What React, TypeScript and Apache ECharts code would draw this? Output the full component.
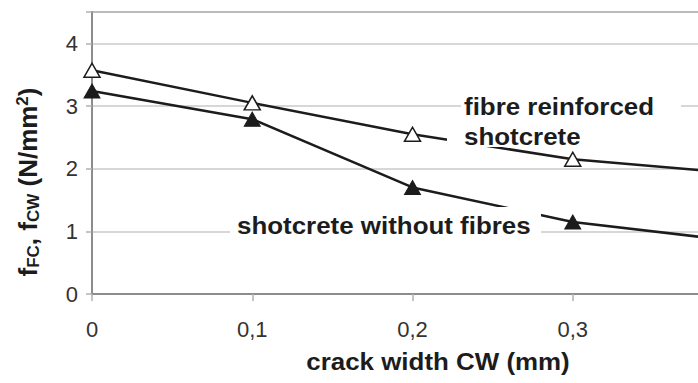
import { useEffect, useRef } from 'react';
import * as echarts from 'echarts';

const crackWidths = [0, 0.1, 0.2, 0.3, 0.4];
const fibreReinforced = [3.57, 3.05, 2.55, 2.15, 1.93];
const withoutFibres = [3.24, 2.79, 1.7, 1.15, 0.85];
const xTickLabels = ['0', '0,1', '0,2', '0,3'];
const yTickLabels = ['0', '1', '2', '3', '4'];
const labelFibre = ['fibre reinforced', 'shotcrete'];
const labelPlain = 'shotcrete without fibres';
const xTitle = 'crack width CW (mm)';

const FONT = '"Liberation Sans", Arial, Helvetica, sans-serif';
const INK = '#1c1c1c';
const CHART_W = 736;
const CHART_H = 383;

export default function App() {
  const ref = useRef<HTMLDivElement>(null);
  useEffect(() => {
    const chart = echarts.init(ref.current!, null, { renderer: 'svg', width: CHART_W, height: CHART_H });
    const boldText = (text: string, x: number, y: number, align: string) => ({
      type: 'text',
      z: 101,
      x,
      y,
      scaleX: 1.08,
      style: {
        text,
        fontFamily: FONT,
        fontWeight: 'bold',
        fontSize: 24,
        fill: INK,
        align,
        verticalAlign: 'middle',
      },
    });
    const option = {
      animation: false,
      backgroundColor: '#fff',
      grid: {
        left: 92,
        top: 12,
        bottom: 89,
        right: 1,
        show: true,
        borderColor: '#8c8c8c',
        borderWidth: 2,
        backgroundColor: 'transparent',
      },
      xAxis: {
        type: 'value',
        min: 0,
        max: 0.4,
        interval: 0.1,
        axisLine: { show: true, lineStyle: { color: '#8c8c8c', width: 2 } },
        axisTick: { show: true, length: 7, lineStyle: { color: '#b0b0b0', width: 1.5 } },
        splitLine: { show: false },
        axisLabel: {
          margin: 24,
          fontSize: 22,
          fontFamily: FONT,
          color: '#333',
          formatter: (v: number) => xTickLabels[Math.round(v * 10)] ?? '',
        },
      },
      yAxis: {
        type: 'value',
        min: 0,
        max: 4.5,
        interval: 1,
        axisLine: { show: true, lineStyle: { color: '#8c8c8c', width: 2 } },
        axisTick: { show: true, length: 6, lineStyle: { color: '#b0b0b0', width: 1.5 } },
        splitLine: { show: true, lineStyle: { color: '#cacaca', width: 1.5 } },
        axisLabel: {
          margin: 14,
          fontSize: 22,
          fontFamily: FONT,
          color: '#333',
          formatter: (v: number) => (Number.isInteger(v) ? yTickLabels[v] ?? '' : ''),
        },
      },
      series: [
        {
          name: labelFibre.join(' '),
          type: 'line',
          data: crackWidths.map((x, i) => [x, fibreReinforced[i]]),
          symbol: 'triangle',
          symbolSize: [16, 14],
          showAllSymbol: true,
          lineStyle: { color: INK, width: 2.5 },
          itemStyle: { color: '#fff', borderColor: INK, borderWidth: 1.5 },
          z: 3,
        },
        {
          name: labelPlain,
          type: 'line',
          data: crackWidths.map((x, i) => [x, withoutFibres[i]]),
          symbol: 'triangle',
          symbolSize: [16, 14],
          showAllSymbol: true,
          lineStyle: { color: INK, width: 2.5 },
          itemStyle: { color: INK, borderColor: INK, borderWidth: 1 },
          z: 3,
        },
      ],
      graphic: [
        { type: 'rect', z: 100, shape: { x: 461, y: 88, width: 220, height: 33 }, style: { fill: '#fff' } },
        { type: 'rect', z: 100, shape: { x: 447, y: 121, width: 143, height: 26 }, style: { fill: '#fff' } },
        { type: 'rect', z: 100, shape: { x: 230, y: 207, width: 311, height: 39 }, style: { fill: '#fff' } },
        boldText(labelFibre[0], 464, 106.5, 'left'),
        boldText(labelFibre[1], 464, 136.5, 'left'),
        boldText(labelPlain, 237, 225, 'left'),
        boldText(xTitle, 438, 361.5, 'center'),
        {
          type: 'text',
          z: 101,
          x: 28,
          y: 182,
          rotation: Math.PI / 2,
          style: {
            text: '{m|f}{s|FC}{m|, f}{s|CW}{m| (N/mm}{p|2}{m|)}',
            align: 'center',
            verticalAlign: 'middle',
            fill: INK,
            rich: {
              m: { fontFamily: FONT, fontWeight: 'bold', fontSize: 26, lineHeight: 28, fill: INK },
              s: { fontFamily: FONT, fontWeight: 'bold', fontSize: 17, lineHeight: 17, verticalAlign: 'bottom', fill: INK },
              p: { fontFamily: FONT, fontWeight: 'bold', fontSize: 17, lineHeight: 17, verticalAlign: 'top', fill: INK },
            },
          },
        },
      ],
    };
    chart.setOption(option as any);
    return () => chart.dispose();
  }, []);
  return (
    <div style={{ position: 'absolute', left: 0, top: 0, width: 698, height: 383, overflow: 'hidden' }}>
      <div ref={ref} style={{ position: 'absolute', left: 0, top: 0, width: CHART_W, height: CHART_H }} />
    </div>
  );
}
